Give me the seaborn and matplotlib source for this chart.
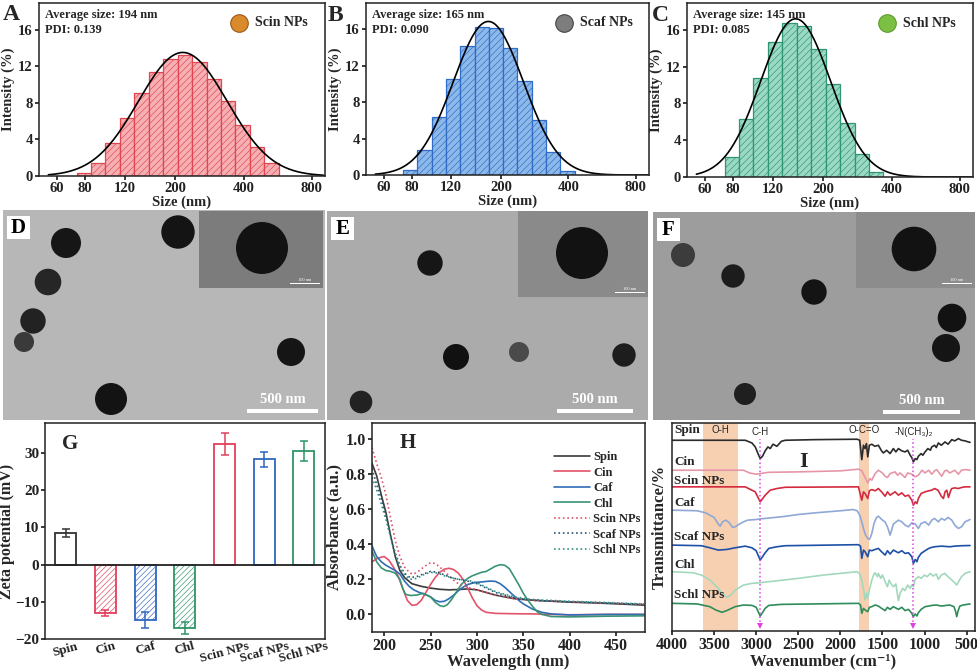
import numpy as np
import matplotlib
matplotlib.use("Agg")
import matplotlib.pyplot as plt
from matplotlib.patches import Circle, Rectangle
from matplotlib.ticker import NullLocator
import seaborn as sns

# ---------------- data ----------------
# DLS size classes (nm) and intensity (%) for panels A-C
dls_sizes = [78.82, 91.28, 105.7, 122.4, 141.8, 164.2, 190.1, 220.2,
             255.0, 295.3, 342.0, 396.1, 458.7, 531.2]
scin_int = [0.3, 1.45, 3.56, 6.3, 9.1, 11.4, 12.8, 13.2, 12.5, 10.65, 8.2, 5.6, 3.2, 1.4]
scaf_int = [0.6, 2.7, 6.4, 10.6, 14.2, 16.3, 16.2, 14.0, 10.3, 6.0, 2.5, 0.4]
schl_int = [2.2, 6.25, 10.8, 14.7, 16.7, 16.35, 13.9, 10.1, 5.9, 2.5, 0.5]
dls_names = ["Scin NPs", "Scaf NPs", "Schl NPs"]
dls_avg = [194, 165, 145]
dls_pdi = ["0.139", "0.090", "0.085"]
size_ticks = [60, 80, 120, 200, 400, 800]

# TEM particles (x, y, radius in image pixels, grey level) for D-F
tem_d = [(63, 33, 15, "#161616"), (175, 22, 16.7, "#141414"), (45, 72, 13.3, "#262626"),
         (30, 111, 12.7, "#222222"), (21, 132, 10, "#3a3a3a"), (288, 142, 14, "#151515"),
         (108, 189, 16, "#131313")]
tem_e = [(103, 52, 12.7, "#161616"), (129, 146, 13, "#111111"), (192, 141, 10, "#4a4a4a"),
         (297, 144, 11.7, "#1d1d1d"), (34, 191, 11.3, "#222222")]
tem_f = [(30, 43, 12, "#3c3c3c"), (80, 64, 11.7, "#1c1c1c"), (161, 80, 12.7, "#141414"),
         (299, 106, 14.3, "#121212"), (293, 136, 14, "#151515"), (92, 182, 11, "#1f1f1f")]
# inset box (x0, y0, x1, y1) and the single particle in it (x, y, r)
tem_insets = [(196, 1, 320, 78, 259, 38, 26), (191, 0, 321, 86, 255, 42, 26),
              (203, 0, 322, 76, 261, 37, 22.3)]

# Zeta potential (G)
zeta_labels = ["Spin", "Cin", "Caf", "Chl", "Scin NPs", "Scaf NPs", "Schl NPs"]
zeta_mean = [8.5, -13.0, -14.9, -17.0, 32.4, 28.2, 30.5]
zeta_sd = [1.0, 0.9, 2.2, 1.6, 2.9, 1.9, 2.8]
zeta_colors = ["#333333", "#e0405a", "#2f66c0", "#2e9466", "#e0405a", "#2f66c0", "#2e9466"]

# UV-vis absorbance (H)
uv_spin_wl = [187, 192, 197, 202, 207, 212, 217, 222, 230, 240, 250, 260, 270, 280, 290,
              300, 310, 320, 330, 340, 350, 370, 400, 430, 460, 480]
uv_spin = [0.86, 0.79, 0.68, 0.58, 0.45, 0.33, 0.25, 0.21, 0.175, 0.16, 0.15, 0.143, 0.14,
           0.142, 0.145, 0.14, 0.125, 0.11, 0.1, 0.09, 0.085, 0.078, 0.07, 0.065, 0.058, 0.053]
uv_cin_wl = [187, 193, 200, 205, 210, 215, 220, 225, 230, 235, 240, 245, 250, 255, 260, 265,
             270, 275, 280, 285, 290, 295, 300, 305, 310, 320, 340, 360, 380, 400, 440, 480]
uv_cin = [0.30, 0.32, 0.33, 0.31, 0.27, 0.22, 0.15, 0.08, 0.052, 0.055, 0.08, 0.125, 0.17,
          0.21, 0.24, 0.258, 0.263, 0.255, 0.235, 0.2, 0.15, 0.095, 0.05, 0.025, 0.012,
          0.006, 0.004, 0.003, 0.0, -0.002, 0.0, 0.0]
uv_caf_wl = [187, 192, 197, 202, 207, 212, 217, 222, 227, 232, 238, 244, 250, 255, 260, 265,
             270, 275, 280, 285, 290, 295, 300, 305, 310, 315, 320, 325, 330, 335, 340, 345,
             350, 355, 360, 370, 380, 400, 440, 480]
uv_caf = [0.39, 0.33, 0.30, 0.28, 0.265, 0.25, 0.23, 0.19, 0.16, 0.14, 0.125, 0.115, 0.10,
          0.08, 0.072, 0.075, 0.09, 0.11, 0.135, 0.155, 0.17, 0.178, 0.183, 0.185, 0.188,
          0.19, 0.188, 0.175, 0.155, 0.13, 0.105, 0.08, 0.06, 0.045, 0.03, 0.012, 0.003,
          -0.003, 0.0, 0.0]
uv_chl_wl = [187, 192, 197, 202, 207, 212, 217, 220, 223, 228, 235, 242, 250, 255, 260, 264,
             268, 272, 277, 283, 290, 295, 300, 305, 310, 315, 320, 325, 330, 335, 340, 345,
             350, 355, 360, 365, 370, 380, 400, 440, 480]
uv_chl = [0.36, 0.3, 0.265, 0.25, 0.245, 0.235, 0.2, 0.15, 0.115, 0.108, 0.11, 0.12, 0.1,
          0.07, 0.05, 0.045, 0.055, 0.08, 0.12, 0.17, 0.205, 0.22, 0.23, 0.24, 0.245, 0.26,
          0.275, 0.283, 0.28, 0.26, 0.215, 0.17, 0.12, 0.08, 0.045, 0.015, 0.0, -0.012,
          -0.014, -0.01, -0.008]
uv_scin_wl = [187, 192, 197, 202, 207, 212, 217, 222, 228, 232, 238, 244, 250, 255, 260, 265,
              270, 275, 280, 290, 300, 310, 320, 340, 360, 400, 440, 480]
uv_scin = [0.95, 0.86, 0.78, 0.68, 0.55, 0.42, 0.33, 0.27, 0.235, 0.23, 0.25, 0.275, 0.295,
           0.29, 0.27, 0.245, 0.22, 0.195, 0.175, 0.155, 0.14, 0.125, 0.11, 0.09, 0.08,
           0.072, 0.065, 0.057]
uv_np_wl = [187, 192, 197, 202, 207, 212, 217, 222, 228, 235, 242, 250, 258, 265, 272, 280,
            290, 300, 310, 320, 340, 360, 400, 440, 480]
uv_scaf = [0.83, 0.74, 0.66, 0.56, 0.45, 0.35, 0.28, 0.235, 0.21, 0.215, 0.23, 0.245, 0.24,
           0.225, 0.21, 0.2, 0.19, 0.175, 0.15, 0.125, 0.095, 0.08, 0.072, 0.065, 0.058]
uv_schl = [0.78, 0.71, 0.63, 0.54, 0.44, 0.34, 0.27, 0.225, 0.2, 0.205, 0.225, 0.24, 0.235,
           0.22, 0.21, 0.2, 0.195, 0.18, 0.155, 0.13, 0.1, 0.085, 0.075, 0.068, 0.06]

# FTIR (I): wavenumber (cm-1) and offset transmittance
ir_spin_wn = [4000, 3130, 3050, 3011, 2970, 2952, 2925, 2893, 2860, 2833, 2800, 2754, 2700,
              2655, 2300, 1800, 1770, 1745, 1725, 1706, 1690, 1674, 1655, 1626, 1590, 1548,
              1510, 1488, 1450, 1409, 1370, 1340, 1310, 1270, 1231, 1200, 1170, 1151, 1132,
              1110, 1090, 1073, 1040, 1020, 993, 960, 930, 914, 880, 860, 835, 800, 756, 720,
              676, 640, 598, 560, 518, 480, 459]
ir_spin = [91.7, 91.7, 90.4, 88.5, 84.5, 82.9, 84.0, 86.6, 88.5, 87.7, 89.8, 88.8, 91.2, 91.7,
           92.0, 92.2, 91.7, 82.4, 89.3, 87.7, 90.1, 83.7, 89.3, 89.8, 88.8, 89.3, 86.6, 85.6,
           86.9, 85.3, 87.7, 86.1, 87.7, 86.6, 86.1, 86.9, 84.5, 83.4, 81.3, 82.9, 82.4, 84.0,
           85.3, 84.5, 86.1, 87.7, 86.9, 88.5, 89.3, 88.2, 90.4, 89.3, 90.9, 89.8, 92.0, 91.4,
           92.5, 91.7, 91.4, 90.9, 90.7]
ir_cin_wn = [4000, 3150, 3080, 3000, 2950, 2850, 2500, 2000, 1780, 1745, 1706, 1674, 1650,
             1626, 1587, 1548, 1500, 1468, 1440, 1409, 1350, 1320, 1290, 1231, 1200, 1151,
             1110, 1073, 1030, 993, 950, 914, 880, 855, 820, 795, 760, 736, 700, 676, 640,
             598, 560, 518, 459]
ir_cin = [77.3, 77.3, 76.0, 75.4, 75.7, 76.3, 76.5, 77.0, 77.8, 77.0, 73.8, 71.2, 73.3, 72.5,
          75.7, 77.3, 76.0, 74.4, 73.8, 75.7, 76.5, 74.9, 76.0, 73.8, 76.0, 75.4, 74.1, 74.9,
          77.3, 76.0, 77.3, 75.4, 77.0, 77.6, 75.7, 74.4, 77.0, 77.3, 76.0, 76.5, 77.3, 75.4,
          77.3, 77.6, 77.3]
ir_scin_wn = [4000, 3130, 3011, 2952, 2893, 2833, 2754, 2655, 1785, 1745, 1725, 1706, 1674,
              1655, 1626, 1587, 1548, 1510, 1468, 1440, 1409, 1350, 1310, 1270, 1231, 1190,
              1151, 1132, 1110, 1090, 1073, 1040, 993, 950, 914, 880, 840, 800, 775, 756, 735,
              715, 690, 676, 640, 598, 560, 518, 459]
ir_scin = [69.3, 69.3, 66.9, 62.1, 65.3, 67.7, 68.5, 69.1, 69.3, 62.9, 66.9, 66.1, 63.7,
           67.4, 68.0, 67.4, 68.5, 66.9, 64.8, 66.9, 65.3, 66.9, 65.3, 66.4, 64.8, 65.3,
           62.9, 60.5, 62.1, 61.3, 63.7, 66.1, 66.9, 67.4, 67.7, 68.5, 67.7, 64.8, 63.7,
           66.9, 67.7, 64.2, 67.4, 68.5, 68.8, 68.5, 69.0, 69.3, 69.3]
ir_caf_wn = [4000, 3700, 3600, 3500, 3450, 3427, 3400, 3360, 3320, 3280, 3250, 3200, 3150,
             3100, 3000, 2950, 2700, 2500, 2300, 2000, 1850, 1800, 1770, 1745, 1720, 1700,
             1674, 1655, 1640, 1626, 1600, 1570, 1548, 1500, 1470, 1440, 1409, 1370, 1310,
             1270, 1231, 1190, 1151, 1110, 1073, 1040, 993, 950, 914, 880, 835, 800, 760,
             720, 676, 640, 598, 560, 518, 459]
ir_caf = [58.1, 57.8, 56.8, 54.6, 51.4, 50.4, 52.5, 53.3, 52.0, 49.8, 50.1, 51.4, 52.5, 53.3,
          53.6, 53.9, 54.9, 56.0, 56.8, 57.8, 58.4, 57.8, 55.7, 52.5, 48.5, 46.1, 44.5, 44.0,
          45.3, 46.9, 51.7, 54.6, 55.2, 53.3, 52.5, 50.1, 46.1, 51.4, 53.3, 52.5, 50.9, 50.1,
          52.0, 51.4, 49.3, 51.7, 52.5, 50.9, 53.3, 54.1, 52.5, 54.1, 53.3, 54.6, 53.3, 50.9,
          49.3, 50.1, 52.5, 53.6]
ir_scaf_wn = [4000, 3650, 3550, 3450, 3350, 3250, 3130, 3050, 3000, 2952, 2925, 2893, 2850,
              2754, 2655, 1785, 1760, 1745, 1725, 1706, 1674, 1655, 1626, 1587, 1548, 1510,
              1468, 1440, 1409, 1370, 1310, 1270, 1231, 1190, 1151, 1132, 1110, 1090, 1073,
              1040, 993, 950, 914, 880, 800, 700, 640, 560, 459]
ir_scaf = [41.3, 41.0, 40.0, 38.9, 39.2, 40.0, 40.8, 40.0, 38.6, 34.1, 35.7, 37.6, 39.7, 40.5,
           41.0, 41.5, 40.8, 34.9, 38.9, 38.1, 35.7, 38.9, 38.6, 39.2, 39.7, 38.1, 36.5, 38.6,
           37.0, 38.9, 37.6, 38.6, 37.3, 37.6, 35.7, 32.5, 34.4, 33.3, 35.4, 37.3, 38.6, 39.7,
           40.2, 40.5, 40.8, 40.5, 40.8, 41.0, 41.1]
ir_chl_wn = [4000, 3750, 3650, 3550, 3450, 3400, 3347, 3300, 3250, 3150, 3050, 2952, 2850,
             2500, 2200, 2000, 1800, 1770, 1745, 1720, 1706, 1690, 1674, 1655, 1626, 1600,
             1587, 1560, 1548, 1520, 1500, 1468, 1440, 1420, 1400, 1370, 1340, 1310, 1290,
             1260, 1231, 1200, 1170, 1151, 1132, 1110, 1073, 1040, 1000, 970, 930, 900, 860,
             835, 800, 760, 720, 676, 640, 617, 590, 560, 518, 459]
ir_chl = [28.5, 28.0, 26.9, 24.5, 20.5, 17.8, 16.2, 17.3, 19.7, 22.1, 22.9, 23.2, 23.7, 25.3,
          26.9, 27.7, 28.5, 27.4, 24.5, 18.9, 14.9, 18.1, 15.7, 19.7, 24.5, 27.4, 28.0, 26.1,
          27.7, 25.3, 26.9, 23.7, 21.3, 24.5, 22.9, 21.3, 22.6, 14.6, 18.1, 20.5, 19.4, 22.1,
          20.5, 22.1, 21.3, 24.8, 26.1, 25.3, 26.9, 26.1, 27.7, 26.4, 27.4, 24.8, 26.9, 27.7,
          26.1, 24.5, 23.2, 22.1, 24.1, 26.1, 27.7, 28.5]
ir_schl_wn = [4000, 3700, 3550, 3480, 3407, 3350, 3250, 3150, 3050, 3000, 2952, 2925, 2893,
              2850, 2700, 1785, 1760, 1745, 1725, 1706, 1674, 1655, 1626, 1587, 1548, 1510,
              1468, 1440, 1409, 1370, 1310, 1270, 1231, 1190, 1151, 1132, 1110, 1090, 1073,
              1040, 993, 950, 914, 860, 800, 700, 650, 630, 617, 600, 580, 540, 459]
ir_schl = [13.3, 13.0, 11.7, 10.1, 9.0, 9.8, 11.7, 12.5, 12.3, 11.4, 7.2, 8.8, 10.9, 12.3,
           12.8, 13.3, 12.5, 8.5, 10.9, 10.1, 9.3, 11.4, 11.7, 12.5, 12.0, 10.9, 9.8, 11.4,
           10.4, 11.7, 10.4, 11.4, 9.8, 10.4, 8.5, 6.9, 8.2, 7.2, 8.8, 10.4, 11.7, 12.0, 12.3,
           12.5, 12.0, 12.5, 11.7, 9.3, 6.9, 9.8, 12.0, 12.5, 13.0]
ir_bands = [(3632, 3221, "O-H"), (1773, 1655, "O-C=O")]
ir_marks = [(2952, "C-H"), (1132, "-N(CH₃)₂")]

# ---------------- style ----------------
sns.set_theme(style="ticks")
serif = ["Liberation Serif", "DejaVu Serif"]
plt.rcParams.update({
    "font.family": serif, "font.weight": "bold", "axes.labelweight": "bold",
    "axes.linewidth": 1.1, "axes.edgecolor": "#222222", "hatch.linewidth": 0.45,
    "xtick.direction": "out", "ytick.direction": "out",
    "xtick.major.size": 3, "ytick.major.size": 3,
    "xtick.color": "#222222", "ytick.color": "#222222",
})

W, H = 977, 671
fig = plt.figure(figsize=(W / 100, H / 100), dpi=100)


def box(l, t, r, b):
    return [l / W, 1 - b / H, (r - l) / W, (b - t) / H]


def letter(x, y, s, size=17):
    fig.text(x / W, 1 - y / H, s, fontsize=size, fontweight="bold", va="top", ha="left")


# ---------------- A-C: DLS histograms ----------------
def dls_panel(rect, heights, face, edge, idx, icon, icon_edge):
    ax = fig.add_axes(box(*rect))
    n = len(heights)
    sizes = np.array(dls_sizes[:n])
    logs = np.log10(dls_sizes)
    half = np.diff(logs).mean() / 2
    edges = list(np.append(logs[:n] - half, logs[n - 1] + half))
    sns.histplot(x=sizes, weights=heights, bins=edges, log_scale=True, ax=ax,
                 facecolor=face, edgecolor=edge, hatch="/////", linewidth=0.9, alpha=1)
    # gaussian (log-normal) fit through the bars
    h = np.asarray(heights)
    coef = np.polyfit(np.log10(sizes), np.log(h), 2, w=h)
    grid = np.logspace(np.log10(55), np.log10(900), 200)
    sns.lineplot(x=grid, y=np.exp(np.polyval(coef, np.log10(grid))), color="black",
                 lw=1.2, ax=ax)
    ax.set_xlim(50, 915)
    ax.set_ylim(0, 18.9)
    ax.set_xticks(size_ticks)
    ax.set_xticklabels([str(t) for t in size_ticks])
    ax.xaxis.set_minor_locator(NullLocator())
    ax.set_yticks([0, 4, 8, 12, 16])
    ax.tick_params(labelsize=10.5, pad=1.5)
    ax.set_xlabel("Size (nm)", fontsize=10.5, labelpad=0)
    ax.set_ylabel("Intensity (%)", fontsize=10.5, labelpad=2)
    ax.text(0.022, 0.968, f"Average size: {dls_avg[idx]} nm", transform=ax.transAxes,
            fontsize=9, va="top")
    ax.text(0.022, 0.878, f"PDI: {dls_pdi[idx]}", transform=ax.transAxes, fontsize=9,
            va="top")
    ax.scatter([0.70], [0.885], s=160, color=icon, edgecolors=icon_edge, linewidths=0.8,
               transform=ax.transAxes, zorder=5)
    ax.text(0.755, 0.885, dls_names[idx], transform=ax.transAxes, fontsize=10, va="center")
    return ax


dls_panel((39, 3, 325, 176), scin_int, "#f6b0b4", "#e0464f", 0, "#d98a2b", "#9a5a18")
dls_panel((366, 3, 649, 175), scaf_int, "#8db8ea", "#2f6cc6", 1, "#7d7d7d", "#444444")
dls_panel((687, 3, 973, 177), schl_int, "#9bd9c4", "#2e9670", 2, "#7cc043", "#5c9a2c")
letter(3, 4, "A")
letter(328, 5, "B")
letter(652, 5, "C")


# ---------------- D-F: TEM images ----------------
def tem_panel(rect, bg, inset_bg, particles, inset, bar, tag):
    l, t, r, b = rect
    w, h = r - l, b - t
    ax = fig.add_axes(box(l, t, r, b))
    ax.set_xlim(0, w)
    ax.set_ylim(h, 0)
    ax.set_facecolor(bg)
    ax.set_xticks([])
    ax.set_yticks([])
    ax.grid(False)
    for s in ax.spines.values():
        s.set_visible(False)
    for x, y, rad, shade in particles:
        ax.add_patch(Circle((x, y), rad, color=shade, lw=0))
    x0, y0, x1, y1, cx, cy, cr = inset
    ax.add_patch(Rectangle((x0, y0), x1 - x0, y1 - y0, color=inset_bg, lw=0))
    ax.add_patch(Circle((cx, cy), cr, color="#121212", lw=0))
    ax.add_patch(Rectangle((x1 - 33, y1 - 5), 30, 1.3, color="white", lw=0))
    ax.text(x1 - 18, y1 - 6, "100 nm", color="white", fontsize=3.2, ha="center",
            va="bottom", fontweight="normal")
    bx0, bx1, by = bar
    ax.add_patch(Rectangle((bx0, by - 1.8), bx1 - bx0, 3.6, color="white", lw=0))
    ax.text((bx0 + bx1) / 2, by - 5, "500 nm", color="white", fontsize=10.5, ha="center",
            va="bottom")
    ax.add_patch(Rectangle((4, 6), 23, 23, color="white", lw=0))
    ax.text(15.5, 18, tag, fontsize=15, ha="center", va="center", color="black")


tem_panel((3, 210, 325, 420), "#b7b7b7", "#7c7c7c", tem_d, tem_insets[0],
          (244, 315, 201), "D")
tem_panel((327, 211, 648, 420), "#ababab", "#8a8a8a", tem_e, tem_insets[1],
          (230, 306, 200), "E")
tem_panel((653, 212, 975, 420), "#9d9d9d", "#8c8c8c", tem_f, tem_insets[2],
          (230, 307, 200), "F")

# ---------------- G: zeta potential ----------------
axg = fig.add_axes(box(45, 423, 325, 639))
sns.barplot(x=zeta_labels, y=zeta_mean, hue=zeta_labels, palette=zeta_colors, width=0.53,
            errorbar=None, legend=False, ax=axg)
for bar, c, v in zip(axg.patches, zeta_colors, zeta_mean):
    bar.set_facecolor("white")
    bar.set_edgecolor(c)
    bar.set_linewidth(1.3)
    if v < 0:
        bar.set_hatch("//////")
for i, (v, e, c) in enumerate(zip(zeta_mean, zeta_sd, zeta_colors)):
    axg.errorbar(i, v, yerr=e, fmt="none", ecolor=c, elinewidth=1.1, capsize=3,
                 capthick=1.1)
axg.axhline(0, color="#222222", lw=1.3)
axg.set_xlim(-0.52, 6.53)
axg.set_ylim(-20, 38)
axg.set_yticks([-20, -10, 0, 10, 20, 30])
axg.set_xticks(range(len(zeta_labels)))
axg.set_xticklabels(zeta_labels, rotation=15, ha="center")
axg.tick_params(axis="y", labelsize=11, pad=1)
axg.tick_params(axis="x", labelsize=9.5, pad=1, length=0)
axg.set_ylabel("Zeta potential (mV)", fontsize=11.5, labelpad=0)
axg.set_xlabel("")
axg.text(0.06, 0.95, "G", transform=axg.transAxes, fontsize=15, va="top")

# ---------------- H: UV-vis ----------------
axh = fig.add_axes(box(372, 423, 645, 632))
uv_series = [
    ("Spin", uv_spin_wl, uv_spin, "#3b3b3b", "-"),
    ("Cin", uv_cin_wl, uv_cin, "#e2536a", "-"),
    ("Caf", uv_caf_wl, uv_caf, "#2f6db5", "-"),
    ("Chl", uv_chl_wl, uv_chl, "#3a9474", "-"),
    ("Scin NPs", uv_scin_wl, uv_scin, "#e2536a", ":"),
    ("Scaf NPs", uv_np_wl, uv_scaf, "#2a5575", ":"),
    ("Schl NPs", uv_np_wl, uv_schl, "#2f9485", ":"),
]
for name, wl, ab, col, ls in uv_series:
    sns.lineplot(x=wl, y=ab, color=col, linestyle=ls, lw=1.2, label=name, ax=axh)
axh.set_xlim(187, 481)
axh.set_ylim(-0.1, 1.09)
axh.set_xticks([200, 250, 300, 350, 400, 450])
axh.set_yticks([0.0, 0.2, 0.4, 0.6, 0.8, 1.0])
axh.set_yticklabels(["0.0", "0.2", "0.4", "0.6", "0.8", "1.0"])
axh.tick_params(labelsize=11.5, pad=1.5)
axh.set_xlabel("Wavelength (nm)", fontsize=12, labelpad=0)
axh.set_ylabel("Absorbance (a.u.)", fontsize=12, labelpad=2)
axh.legend(loc="upper left", bbox_to_anchor=(0.665, 0.865), frameon=False, fontsize=9,
           handlelength=2.9, handletextpad=0.25, labelspacing=0.28, borderpad=0,
           borderaxespad=0)
axh.text(0.1, 0.95, "H", transform=axh.transAxes, fontsize=15, va="top")

# ---------------- I: FTIR ----------------
axi = fig.add_axes(box(672, 423, 975, 631))
for lo, hi, name in ir_bands:
    axi.axvspan(hi, lo, color="#f6c8a4", alpha=0.85, lw=0, zorder=0)
    axi.text((lo + hi) / 2, 96.5, name, fontsize=7, ha="center", va="center",
             fontweight="normal", family=["Liberation Sans", "DejaVu Sans"])
ir_series = [
    ("Spin", ir_spin_wn, ir_spin, "#2b2b2b", 96.6),
    ("Cin", ir_cin_wn, ir_cin, "#e597a8", 81.3),
    ("Scin NPs", ir_scin_wn, ir_scin, "#d42a3e", 72.0),
    ("Caf", ir_caf_wn, ir_caf, "#8fa8d6", 61.3),
    ("Scaf NPs", ir_scaf_wn, ir_scaf, "#1d4fa6", 45.3),
    ("Chl", ir_chl_wn, ir_chl, "#a3d8bd", 31.7),
    ("Schl NPs", ir_schl_wn, ir_schl, "#2f8c5a", 17.3),
]
for name, wn, tr, col, ty in ir_series:
    sns.lineplot(x=wn, y=tr, color=col, lw=1.2, ax=axi)
    axi.text(3975, ty, name, fontsize=9.5, va="center", ha="left")
for wn, name in ir_marks:
    axi.vlines(wn, 2.5, 92.5, colors="#e040e0", linestyles=":", lw=1.1)
    axi.plot([wn], [2.2], marker="v", color="#e040e0", ms=5, mew=0)
    axi.text(wn, 95.8, name, fontsize=7, ha="center", va="center", fontweight="normal",
             family=["Liberation Sans", "DejaVu Sans"])
axi.set_xlim(4000, 400)
axi.set_ylim(0, 100)
axi.set_xticks([4000, 3500, 3000, 2500, 2000, 1500, 1000, 500])
axi.set_yticks([])
axi.tick_params(labelsize=11.5, pad=1.5)
axi.set_xlabel("Wavenumber (cm⁻¹)", fontsize=12, labelpad=0)
axi.set_ylabel("Transmittance/%", fontsize=12, labelpad=3)
axi.text(0.42, 0.86, "I", transform=axi.transAxes, fontsize=16, va="top")

fig.savefig("out.png", dpi=100)
